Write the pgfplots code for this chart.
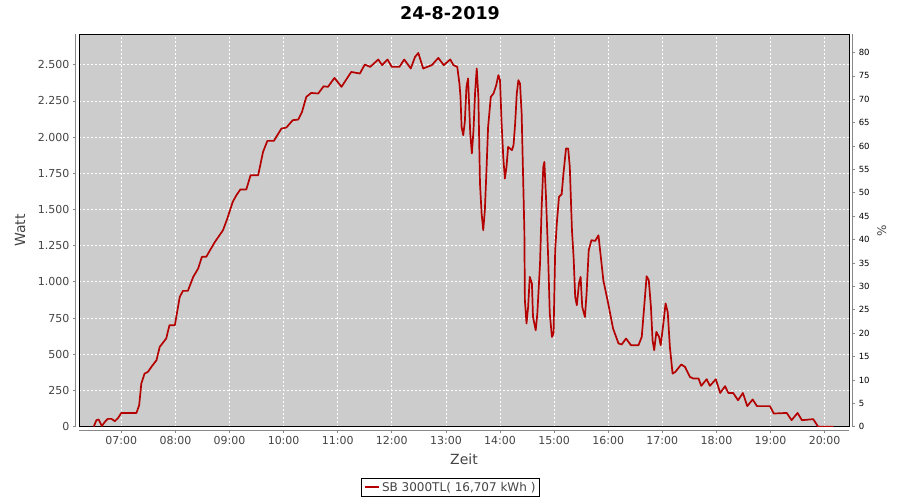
\documentclass[border=0pt]{standalone}
\usepackage{fontspec}
\setmainfont{DejaVu Sans}
\usepackage{pgfplots}
\pgfplotsset{compat=1.18}
\definecolor{bgc}{RGB}{204,204,204}
\definecolor{datared}{RGB}{180,0,0}
\definecolor{tlab}{RGB}{68,68,68}
\definecolor{axgray}{RGB}{136,136,136}
\pgfplotstableread{
t w
6.49 0
6.54 45
6.58 50
6.64 5
6.70 35
6.75 54
6.82 54
6.88 38
6.94 60
7.00 95
7.28 95
7.33 148
7.37 298
7.43 367
7.49 378
7.57 420
7.65 459
7.71 551
7.77 580
7.83 609
7.89 701
7.99 701
8.08 896
8.14 938
8.23 938
8.33 1035
8.42 1092
8.49 1173
8.57 1173
8.65 1225
8.73 1276
8.88 1357
8.96 1438
9.06 1553
9.13 1600
9.20 1638
9.31 1638
9.39 1737
9.53 1737
9.62 1898
9.70 1974
9.82 1974
9.96 2059
10.05 2066
10.17 2117
10.27 2121
10.34 2174
10.42 2278
10.51 2305
10.64 2301
10.74 2351
10.82 2347
10.94 2409
11.07 2347
11.25 2450
11.41 2439
11.50 2501
11.60 2485
11.75 2536
11.82 2497
11.92 2536
12.00 2485
12.14 2485
12.23 2536
12.35 2474
12.43 2554
12.49 2581
12.58 2474
12.74 2497
12.86 2547
12.96 2497
13.08 2536
13.14 2497
13.21 2485
13.25 2370
13.27 2278
13.29 2070
13.32 2013
13.35 2105
13.38 2347
13.41 2405
13.45 2025
13.48 1887
13.51 2047
13.54 2312
13.57 2474
13.60 2278
13.63 1680
13.66 1472
13.69 1357
13.72 1495
13.75 1771
13.78 2070
13.83 2278
13.88 2301
13.93 2358
13.97 2428
14.00 2393
14.03 2094
14.06 1863
14.09 1714
14.12 1794
14.15 1932
14.22 1910
14.25 1944
14.28 2094
14.31 2301
14.34 2393
14.37 2370
14.40 2163
14.43 1680
14.45 1357
14.46 874
14.49 713
14.52 827
14.55 1035
14.59 989
14.61 758
14.66 666
14.69 782
14.74 1127
14.77 1518
14.80 1794
14.82 1829
14.85 1587
14.89 1173
14.92 782
14.96 620
14.99 644
15.02 1219
15.05 1403
15.09 1587
15.14 1606
15.17 1737
15.22 1921
15.26 1921
15.29 1794
15.33 1357
15.36 1173
15.39 896
15.42 839
15.46 989
15.49 1035
15.52 827
15.57 758
15.60 920
15.64 1219
15.69 1288
15.76 1283
15.82 1322
15.85 1219
15.91 1012
16.00 851
16.09 678
16.19 575
16.25 568
16.33 609
16.42 563
16.56 563
16.62 620
16.66 805
16.71 1039
16.75 1012
16.79 827
16.82 597
16.85 528
16.89 655
16.94 620
16.97 563
17.02 713
17.06 851
17.10 793
17.14 551
17.19 367
17.24 378
17.35 430
17.42 413
17.51 344
17.57 333
17.67 333
17.72 282
17.82 328
17.88 282
17.99 328
18.07 233
18.16 280
18.22 233
18.31 233
18.40 183
18.49 233
18.57 142
18.67 188
18.75 142
18.99 142
19.06 91
19.30 95
19.39 45
19.50 95
19.58 45
19.79 52
19.88 0
20.16 0
}\powertable
\begin{document}
\begin{tikzpicture}
\useasboundingbox (-79pt,-73.3pt) rectangle (821pt,426.7pt);
\pgfplotsset{
  common/.style={scale only axis, width=770pt, height=392.4pt,
    xmin=6.218, xmax=20.451, anchor=south west,
    /pgf/number format/assume math mode=true,
    tick align=outside, major tick length=2.5pt,
    tick style={axgray, line width=0.8pt},
    axis line style={axgray, line width=1pt},
    ticklabel style={font=\fontsize{11}{13}\selectfont, text=tlab}},
}
% main frame, grid, data
\begin{axis}[common, at={(0pt,0pt)}, ymin=0, ymax=2710,
  axis background/.style={fill=bgc},
  xtick={7,...,20}, ytick={0,250,...,2500},
  xticklabels={}, yticklabels={}, major tick length=0pt,
  grid=major, grid style={white, line width=0.8pt, dash pattern=on 2pt off 2pt},
  axis line style={black, line width=0.9pt},
  title={24-8-2019},
  every axis title/.style={at={(axis description cs:0.4818,1)}, anchor=center, yshift=21pt, font=\bfseries\fontsize{17.5}{20}\selectfont},
  xlabel={Zeit}, ylabel={Watt},
  every axis x label/.style={at={(axis description cs:0.5,0)}, anchor=center, yshift=-33pt, font=\fontsize{14}{16}\selectfont, text=tlab},
  every axis y label/.style={at={(axis description cs:0,0.5)}, anchor=center, xshift=-59pt, rotate=90, font=\fontsize{14}{16}\selectfont, text=tlab},
  legend style={at={(axis description cs:0.4825,0)}, anchor=center, yshift=-60.5pt, draw=black, line width=0.7pt, fill=white, font=\fontsize{12}{14}\selectfont, text=tlab, inner xsep=2pt, inner ysep=1.5pt},
  legend image code/.code={\draw[#1, line width=2.5pt] (0pt,0pt) -- (14pt,0pt);},
]
\addplot[datared, line width=1.7pt, line join=round] table[x=t, y=w] {\powertable};
\addlegendentry{SB 3000TL( 16,707 kWh )}
\end{axis}
% left axis (Watt)
\begin{axis}[common, at={(-3.5pt,0pt)}, ymin=0, ymax=2710,
  axis y line*=left, axis x line=none, xtick=\empty,
  ytick={0,250,...,2500}, scaled y ticks=false,
  /pgf/number format/1000 sep={.},
  /pgf/number format/fixed,
]
\end{axis}
% bottom axis (Zeit)
\begin{axis}[common, at={(0pt,-4pt)}, ymin=0, ymax=2710,
  axis x line*=bottom, axis y line=none, ytick=\empty,
  xtick={7,...,20},
  xticklabels={07:00,08:00,09:00,10:00,11:00,12:00,13:00,14:00,15:00,16:00,17:00,18:00,19:00,20:00},
]
\end{axis}
% right axis (%)
\begin{axis}[common, at={(3.7pt,0pt)}, ymin=0, ymax=83.9,
  axis y line*=right, axis x line=none, xtick=\empty,
  ytick={0,5,...,80},
  yticklabel style={font=\fontsize{8.5}{10}\selectfont, text=black},
  ylabel={\%},
  every axis y label/.style={at={(axis description cs:1,0.5)}, anchor=center, xshift=29pt, rotate=90, font=\fontsize{12}{14}\selectfont, text=tlab},
]
\end{axis}
\end{tikzpicture}
\end{document}
